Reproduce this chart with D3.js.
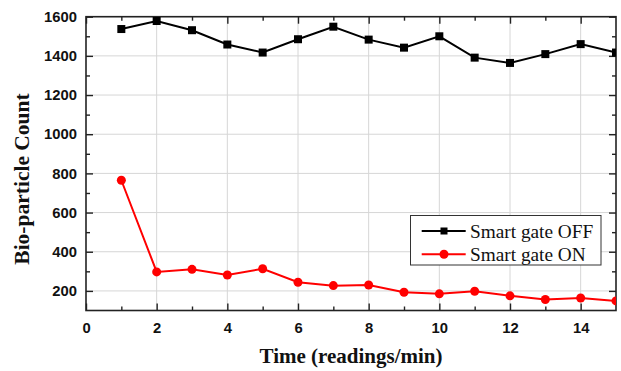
<!DOCTYPE html>
<html><head><meta charset="utf-8">
<script src="https://cdn.jsdelivr.net/npm/d3@7/dist/d3.min.js"></script>
<style>body{margin:0;background:#fff;}svg{display:block;}</style>
</head><body>
<svg id="chart" width="621" height="371"></svg>
<script>
const times = [1,2,3,4,5,6,7,8,9,10,11,12,13,14,15];
const gateOff = [1537,1578,1531,1458,1417,1485,1549,1483,1442,1500,1391,1364,1409,1460,1417];
const gateOn = [765,297,310,281,313,244,227,230,193,185,198,175,156,164,149];
const seriesNames = ["Smart gate OFF","Smart gate ON"];
const xTicks = [0,2,4,6,8,10,12,14];
const yTicks = [200,400,600,800,1000,1200,1400,1600];
const xLabel = "Time (readings/min)";
const yLabel = "Bio-particle Count";

const svg = d3.select("#chart");
const L = 86, R = 616, T = 16.7, B = 310.5;
const x = d3.scaleLinear().domain([0,15]).range([L,R]);
const y = d3.scaleLinear().domain([100,1600]).range([B,T]);

// grid
const g = svg.append("g");
g.selectAll(".vg").data(xTicks.filter(d=>d>0)).join("line")
  .attr("x1",d=>x(d)).attr("x2",d=>x(d)).attr("y1",T).attr("y2",B)
  .attr("stroke","#d6d6d6").attr("stroke-width",1);
g.selectAll(".hg").data(yTicks).join("line")
  .attr("y1",d=>y(d)).attr("y2",d=>y(d)).attr("x1",L).attr("x2",R)
  .attr("stroke","#d6d6d6").attr("stroke-width",1);

// axes with inward ticks
const minorX = d3.range(1,15,2);
const minorY = d3.range(300,1600,200);
function axisGroup(axis, tr){ return svg.append("g").attr("transform",tr).call(axis); }
const ax = [
  axisGroup(d3.axisBottom(x).tickValues(xTicks).tickSize(-7).tickPadding(12).tickFormat(d3.format("d")), `translate(0,${B})`),
  axisGroup(d3.axisBottom(x).tickValues(minorX).tickSize(-4).tickFormat(""), `translate(0,${B})`),
  axisGroup(d3.axisTop(x).tickValues(xTicks).tickSize(-7).tickFormat(""), `translate(0,${T})`),
  axisGroup(d3.axisTop(x).tickValues(minorX).tickSize(-4).tickFormat(""), `translate(0,${T})`),
  axisGroup(d3.axisLeft(y).tickValues(yTicks).tickSize(-7).tickPadding(9).tickFormat(d3.format("d")), `translate(${L},0)`),
  axisGroup(d3.axisLeft(y).tickValues(minorY).tickSize(-4).tickFormat(""), `translate(${L},0)`),
  axisGroup(d3.axisRight(y).tickValues(yTicks).tickSize(-7).tickFormat(""), `translate(${R},0)`),
  axisGroup(d3.axisRight(y).tickValues(minorY).tickSize(-4).tickFormat(""), `translate(${R},0)`)
];
ax.forEach(a=>{
  a.select(".domain").remove();
  a.selectAll(".tick line").attr("stroke","#222").attr("stroke-width",1.4);
  a.selectAll(".tick text").attr("font-family","'Liberation Sans', Arial, sans-serif")
    .attr("font-weight","bold").attr("font-size","14.8px").attr("fill","#111");
});
svg.append("rect").attr("x",L).attr("y",T).attr("width",R-L).attr("height",B-T)
  .attr("fill","none").attr("stroke","#222").attr("stroke-width",1.6);

svg.append("clipPath").attr("id","clip").append("rect")
  .attr("x",L).attr("y",T-10).attr("width",R-L).attr("height",B-T+20);

const line = d3.line().x((d,i)=>x(times[i])).y(d=>y(d));
const plot = svg.append("g").attr("clip-path","url(#clip)");
plot.append("path").datum(gateOff).attr("d",line).attr("fill","none").attr("stroke","#000").attr("stroke-width",2);
plot.selectAll(".sq").data(gateOff).join("rect")
  .attr("x",(d,i)=>x(times[i])-4).attr("y",d=>y(d)-4).attr("width",8).attr("height",8).attr("fill","#000");
plot.append("path").datum(gateOn).attr("d",line).attr("fill","none").attr("stroke","#ff0000").attr("stroke-width",2);
plot.selectAll(".ci").data(gateOn).join("circle")
  .attr("cx",(d,i)=>x(times[i])).attr("cy",d=>y(d)).attr("r",4.5).attr("fill","#ff0000");

// legend
const lg = svg.append("g");
lg.append("rect").attr("x",410.5).attr("y",215.5).attr("width",190.5).attr("height",49.5)
  .attr("fill","#fff").attr("stroke","#333").attr("stroke-width",1);
const rows = [{n:seriesNames[0],c:"#000",m:"sq",y:231},{n:seriesNames[1],c:"#ff0000",m:"ci",y:254.3}];
rows.forEach(r=>{
  lg.append("line").attr("x1",421.7).attr("x2",465.7).attr("y1",r.y).attr("y2",r.y).attr("stroke",r.c).attr("stroke-width",2);
  if(r.m==="sq") lg.append("rect").attr("x",444-3.5).attr("y",r.y-3.5).attr("width",7).attr("height",7).attr("fill",r.c);
  else lg.append("circle").attr("cx",444).attr("cy",r.y).attr("r",4.5).attr("fill",r.c);
  lg.append("text").attr("x",470).attr("y",r.y+6.5).text(r.n)
    .attr("font-family","'Liberation Serif', 'Times New Roman', serif").attr("font-size","19.3px").attr("fill","#111");
});

// titles
svg.append("text").attr("x",(L+R)/2).attr("y",363).attr("text-anchor","middle").text(xLabel)
  .attr("font-family","'Liberation Serif', 'Times New Roman', serif").attr("font-weight","bold").attr("font-size","21px").attr("fill","#111");
svg.append("text").attr("transform","translate(29,179) rotate(-90)").attr("text-anchor","middle").text(yLabel)
  .attr("font-family","'Liberation Serif', 'Times New Roman', serif").attr("font-weight","bold").attr("font-size","21.5px").attr("fill","#111");
</script>
</body></html>
